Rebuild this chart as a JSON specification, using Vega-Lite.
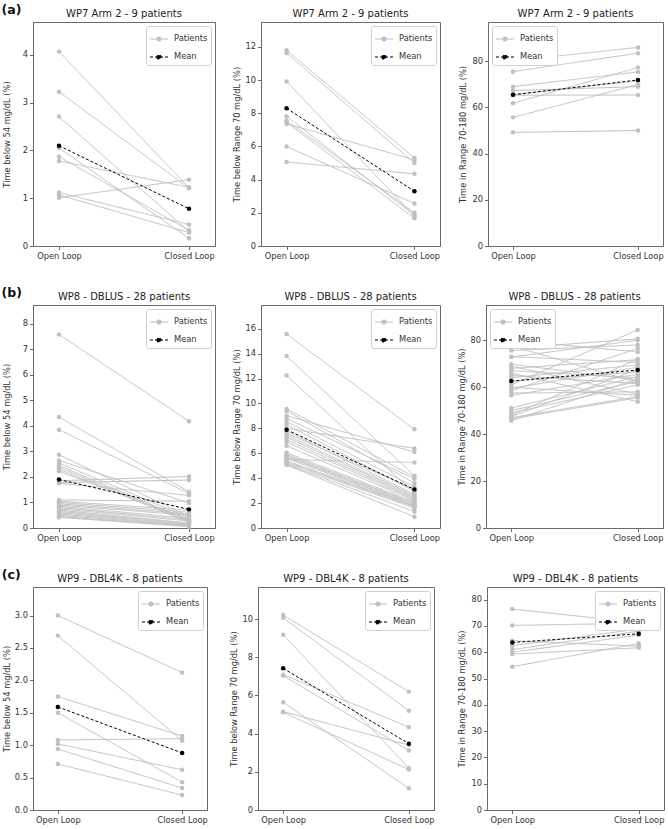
{
  "$schema": "https://vega.github.io/schema/vega-lite/v6.json",
  "padding": {"left": 1, "top": 4, "right": 2, "bottom": 2},
  "config": {
    "font": "DejaVu Sans",
    "view": {"stroke": "#6a6a6a", "strokeWidth": 1},
    "axis": {"grid": false, "domainColor": "#6a6a6a", "tickColor": "#6a6a6a", "labelColor": "#333", "titleColor": "#333", "labelFontSize": 8.3, "titleFontSize": 8.3, "titleFontWeight": "normal", "tickSize": 3.5, "labelPadding": 2, "titlePadding": 3, "domainWidth": 1, "tickWidth": 1},
    "title": {"fontSize": 10, "fontWeight": "normal", "color": "#222", "offset": 3},
    "legend": {"symbolType": "M-1,0H1M-0.22,0A0.22,0.22 0 1,0 0.22,0A0.22,0.22 0 1,0 -0.22,0Z", "symbolSize": 324, "symbolStrokeWidth": 1.2, "labelFontSize": 8.3, "labelColor": "#333", "padding": 3, "rowPadding": 3, "labelOffset": 5, "fillColor": "white", "strokeColor": "#d0d0d0", "cornerRadius": 2.5, "offset": 4}
  },
  "data": {"values": [
    {"panel": "a1", "series": "Patients", "id": 1, "Open Loop": 4.07, "Closed Loop": 1.22},
    {"panel": "a1", "series": "Patients", "id": 2, "Open Loop": 3.23, "Closed Loop": 1.21},
    {"panel": "a1", "series": "Patients", "id": 3, "Open Loop": 2.71, "Closed Loop": 0.30},
    {"panel": "a1", "series": "Patients", "id": 4, "Open Loop": 2.05, "Closed Loop": 0.16},
    {"panel": "a1", "series": "Patients", "id": 5, "Open Loop": 1.87, "Closed Loop": 0.33},
    {"panel": "a1", "series": "Patients", "id": 6, "Open Loop": 1.78, "Closed Loop": 1.23},
    {"panel": "a1", "series": "Patients", "id": 7, "Open Loop": 1.12, "Closed Loop": 0.45},
    {"panel": "a1", "series": "Patients", "id": 8, "Open Loop": 1.07, "Closed Loop": 0.28},
    {"panel": "a1", "series": "Patients", "id": 9, "Open Loop": 1.01, "Closed Loop": 1.39},
    {"panel": "a1", "series": "Mean", "id": 0, "Open Loop": 2.10, "Closed Loop": 0.78},
    {"panel": "a2", "series": "Patients", "id": 1, "Open Loop": 11.8, "Closed Loop": 5.3},
    {"panel": "a2", "series": "Patients", "id": 2, "Open Loop": 11.63, "Closed Loop": 5.0},
    {"panel": "a2", "series": "Patients", "id": 3, "Open Loop": 9.92, "Closed Loop": 1.8},
    {"panel": "a2", "series": "Patients", "id": 4, "Open Loop": 7.82, "Closed Loop": 1.85},
    {"panel": "a2", "series": "Patients", "id": 5, "Open Loop": 7.56, "Closed Loop": 2.0},
    {"panel": "a2", "series": "Patients", "id": 6, "Open Loop": 7.45, "Closed Loop": 1.67},
    {"panel": "a2", "series": "Patients", "id": 7, "Open Loop": 7.36, "Closed Loop": 5.2},
    {"panel": "a2", "series": "Patients", "id": 8, "Open Loop": 5.99, "Closed Loop": 2.56},
    {"panel": "a2", "series": "Patients", "id": 9, "Open Loop": 5.06, "Closed Loop": 4.35},
    {"panel": "a2", "series": "Mean", "id": 0, "Open Loop": 8.3, "Closed Loop": 3.3},
    {"panel": "a3", "series": "Patients", "id": 1, "Open Loop": 80.2, "Closed Loop": 86.0},
    {"panel": "a3", "series": "Patients", "id": 2, "Open Loop": 75.5, "Closed Loop": 83.5},
    {"panel": "a3", "series": "Patients", "id": 3, "Open Loop": 69.0, "Closed Loop": 75.4},
    {"panel": "a3", "series": "Patients", "id": 4, "Open Loop": 67.3, "Closed Loop": 69.0},
    {"panel": "a3", "series": "Patients", "id": 5, "Open Loop": 65.3, "Closed Loop": 65.4},
    {"panel": "a3", "series": "Patients", "id": 6, "Open Loop": 61.8, "Closed Loop": 77.3},
    {"panel": "a3", "series": "Patients", "id": 7, "Open Loop": 55.7, "Closed Loop": 69.9},
    {"panel": "a3", "series": "Patients", "id": 8, "Open Loop": 49.2, "Closed Loop": 50.0},
    {"panel": "a3", "series": "Patients", "id": 9, "Open Loop": 65.5, "Closed Loop": 71.5},
    {"panel": "a3", "series": "Mean", "id": 0, "Open Loop": 65.5, "Closed Loop": 71.9},
    {"panel": "b1", "series": "Patients", "id": 1, "Open Loop": 7.58, "Closed Loop": 4.18},
    {"panel": "b1", "series": "Patients", "id": 2, "Open Loop": 4.35, "Closed Loop": 1.42},
    {"panel": "b1", "series": "Patients", "id": 3, "Open Loop": 3.85, "Closed Loop": 1.35},
    {"panel": "b1", "series": "Patients", "id": 4, "Open Loop": 2.87, "Closed Loop": 0.45},
    {"panel": "b1", "series": "Patients", "id": 5, "Open Loop": 2.65, "Closed Loop": 0.98},
    {"panel": "b1", "series": "Patients", "id": 6, "Open Loop": 2.55, "Closed Loop": 0.40},
    {"panel": "b1", "series": "Patients", "id": 7, "Open Loop": 2.45, "Closed Loop": 0.30},
    {"panel": "b1", "series": "Patients", "id": 8, "Open Loop": 2.38, "Closed Loop": 0.25},
    {"panel": "b1", "series": "Patients", "id": 9, "Open Loop": 2.30, "Closed Loop": 0.22},
    {"panel": "b1", "series": "Patients", "id": 10, "Open Loop": 2.22, "Closed Loop": 0.35},
    {"panel": "b1", "series": "Patients", "id": 11, "Open Loop": 1.85, "Closed Loop": 2.02},
    {"panel": "b1", "series": "Patients", "id": 12, "Open Loop": 1.78, "Closed Loop": 1.88},
    {"panel": "b1", "series": "Patients", "id": 13, "Open Loop": 1.75, "Closed Loop": 1.28},
    {"panel": "b1", "series": "Patients", "id": 14, "Open Loop": 1.10, "Closed Loop": 1.05},
    {"panel": "b1", "series": "Patients", "id": 15, "Open Loop": 1.05, "Closed Loop": 0.70},
    {"panel": "b1", "series": "Patients", "id": 16, "Open Loop": 1.00, "Closed Loop": 0.62},
    {"panel": "b1", "series": "Patients", "id": 17, "Open Loop": 0.95, "Closed Loop": 0.55},
    {"panel": "b1", "series": "Patients", "id": 18, "Open Loop": 0.90, "Closed Loop": 0.50},
    {"panel": "b1", "series": "Patients", "id": 19, "Open Loop": 0.85, "Closed Loop": 0.38},
    {"panel": "b1", "series": "Patients", "id": 20, "Open Loop": 0.80, "Closed Loop": 0.32},
    {"panel": "b1", "series": "Patients", "id": 21, "Open Loop": 0.75, "Closed Loop": 0.28},
    {"panel": "b1", "series": "Patients", "id": 22, "Open Loop": 0.70, "Closed Loop": 0.20},
    {"panel": "b1", "series": "Patients", "id": 23, "Open Loop": 0.65, "Closed Loop": 0.18},
    {"panel": "b1", "series": "Patients", "id": 24, "Open Loop": 0.60, "Closed Loop": 0.15},
    {"panel": "b1", "series": "Patients", "id": 25, "Open Loop": 0.55, "Closed Loop": 0.12},
    {"panel": "b1", "series": "Patients", "id": 26, "Open Loop": 0.50, "Closed Loop": 0.10},
    {"panel": "b1", "series": "Patients", "id": 27, "Open Loop": 0.45, "Closed Loop": 0.08},
    {"panel": "b1", "series": "Patients", "id": 28, "Open Loop": 0.42, "Closed Loop": 0.05},
    {"panel": "b1", "series": "Mean", "id": 0, "Open Loop": 1.90, "Closed Loop": 0.73},
    {"panel": "b2", "series": "Patients", "id": 1, "Open Loop": 15.57, "Closed Loop": 7.92},
    {"panel": "b2", "series": "Patients", "id": 2, "Open Loop": 13.8, "Closed Loop": 4.19},
    {"panel": "b2", "series": "Patients", "id": 3, "Open Loop": 12.24, "Closed Loop": 2.8},
    {"panel": "b2", "series": "Patients", "id": 4, "Open Loop": 9.56, "Closed Loop": 4.1},
    {"panel": "b2", "series": "Patients", "id": 5, "Open Loop": 9.4, "Closed Loop": 3.6},
    {"panel": "b2", "series": "Patients", "id": 6, "Open Loop": 9.02, "Closed Loop": 6.1},
    {"panel": "b2", "series": "Patients", "id": 7, "Open Loop": 8.8, "Closed Loop": 3.95},
    {"panel": "b2", "series": "Patients", "id": 8, "Open Loop": 8.54, "Closed Loop": 3.3},
    {"panel": "b2", "series": "Patients", "id": 9, "Open Loop": 8.3, "Closed Loop": 2.95},
    {"panel": "b2", "series": "Patients", "id": 10, "Open Loop": 8.0, "Closed Loop": 6.39},
    {"panel": "b2", "series": "Patients", "id": 11, "Open Loop": 7.8, "Closed Loop": 2.7},
    {"panel": "b2", "series": "Patients", "id": 12, "Open Loop": 7.6, "Closed Loop": 3.1},
    {"panel": "b2", "series": "Patients", "id": 13, "Open Loop": 7.46, "Closed Loop": 2.6},
    {"panel": "b2", "series": "Patients", "id": 14, "Open Loop": 7.3, "Closed Loop": 2.5},
    {"panel": "b2", "series": "Patients", "id": 15, "Open Loop": 7.1, "Closed Loop": 2.4},
    {"panel": "b2", "series": "Patients", "id": 16, "Open Loop": 6.9, "Closed Loop": 2.3},
    {"panel": "b2", "series": "Patients", "id": 17, "Open Loop": 6.6, "Closed Loop": 2.2},
    {"panel": "b2", "series": "Patients", "id": 18, "Open Loop": 6.04, "Closed Loop": 2.1},
    {"panel": "b2", "series": "Patients", "id": 19, "Open Loop": 5.9, "Closed Loop": 2.0},
    {"panel": "b2", "series": "Patients", "id": 20, "Open Loop": 5.8, "Closed Loop": 1.95},
    {"panel": "b2", "series": "Patients", "id": 21, "Open Loop": 5.7, "Closed Loop": 1.85},
    {"panel": "b2", "series": "Patients", "id": 22, "Open Loop": 5.6, "Closed Loop": 1.8},
    {"panel": "b2", "series": "Patients", "id": 23, "Open Loop": 5.5, "Closed Loop": 5.26},
    {"panel": "b2", "series": "Patients", "id": 24, "Open Loop": 5.4, "Closed Loop": 1.75},
    {"panel": "b2", "series": "Patients", "id": 25, "Open Loop": 5.3, "Closed Loop": 1.7},
    {"panel": "b2", "series": "Patients", "id": 26, "Open Loop": 5.2, "Closed Loop": 1.6},
    {"panel": "b2", "series": "Patients", "id": 27, "Open Loop": 5.1, "Closed Loop": 1.32},
    {"panel": "b2", "series": "Patients", "id": 28, "Open Loop": 5.05, "Closed Loop": 0.91},
    {"panel": "b2", "series": "Mean", "id": 0, "Open Loop": 7.89, "Closed Loop": 3.1},
    {"panel": "b3", "series": "Patients", "id": 1, "Open Loop": 80.0, "Closed Loop": 75.0},
    {"panel": "b3", "series": "Patients", "id": 2, "Open Loop": 77.6, "Closed Loop": 62.0},
    {"panel": "b3", "series": "Patients", "id": 3, "Open Loop": 76.5, "Closed Loop": 80.6},
    {"panel": "b3", "series": "Patients", "id": 4, "Open Loop": 75.6, "Closed Loop": 78.0},
    {"panel": "b3", "series": "Patients", "id": 5, "Open Loop": 73.0, "Closed Loop": 70.5},
    {"panel": "b3", "series": "Patients", "id": 6, "Open Loop": 72.8, "Closed Loop": 80.0},
    {"panel": "b3", "series": "Patients", "id": 7, "Open Loop": 69.8, "Closed Loop": 63.0},
    {"panel": "b3", "series": "Patients", "id": 8, "Open Loop": 69.0, "Closed Loop": 57.0},
    {"panel": "b3", "series": "Patients", "id": 9, "Open Loop": 68.0, "Closed Loop": 71.7},
    {"panel": "b3", "series": "Patients", "id": 10, "Open Loop": 67.0, "Closed Loop": 64.0},
    {"panel": "b3", "series": "Patients", "id": 11, "Open Loop": 66.0, "Closed Loop": 53.8},
    {"panel": "b3", "series": "Patients", "id": 12, "Open Loop": 65.0, "Closed Loop": 61.5},
    {"panel": "b3", "series": "Patients", "id": 13, "Open Loop": 64.0, "Closed Loop": 69.5},
    {"panel": "b3", "series": "Patients", "id": 14, "Open Loop": 62.5, "Closed Loop": 66.5},
    {"panel": "b3", "series": "Patients", "id": 15, "Open Loop": 61.0, "Closed Loop": 84.4},
    {"panel": "b3", "series": "Patients", "id": 16, "Open Loop": 60.0, "Closed Loop": 56.5},
    {"panel": "b3", "series": "Patients", "id": 17, "Open Loop": 59.5, "Closed Loop": 68.5},
    {"panel": "b3", "series": "Patients", "id": 18, "Open Loop": 58.5, "Closed Loop": 76.5},
    {"panel": "b3", "series": "Patients", "id": 19, "Open Loop": 57.5, "Closed Loop": 58.0},
    {"panel": "b3", "series": "Patients", "id": 20, "Open Loop": 56.5, "Closed Loop": 65.5},
    {"panel": "b3", "series": "Patients", "id": 21, "Open Loop": 51.1, "Closed Loop": 64.5},
    {"panel": "b3", "series": "Patients", "id": 22, "Open Loop": 50.0, "Closed Loop": 62.5},
    {"panel": "b3", "series": "Patients", "id": 23, "Open Loop": 49.0, "Closed Loop": 61.0},
    {"panel": "b3", "series": "Patients", "id": 24, "Open Loop": 48.0, "Closed Loop": 72.0},
    {"panel": "b3", "series": "Patients", "id": 25, "Open Loop": 47.5, "Closed Loop": 67.5},
    {"panel": "b3", "series": "Patients", "id": 26, "Open Loop": 47.0, "Closed Loop": 56.0},
    {"panel": "b3", "series": "Patients", "id": 27, "Open Loop": 46.5, "Closed Loop": 55.5},
    {"panel": "b3", "series": "Patients", "id": 28, "Open Loop": 45.7, "Closed Loop": 63.5},
    {"panel": "b3", "series": "Mean", "id": 0, "Open Loop": 62.6, "Closed Loop": 67.3},
    {"panel": "c1", "series": "Patients", "id": 1, "Open Loop": 3.00, "Closed Loop": 2.12},
    {"panel": "c1", "series": "Patients", "id": 2, "Open Loop": 2.69, "Closed Loop": 1.07},
    {"panel": "c1", "series": "Patients", "id": 3, "Open Loop": 1.75, "Closed Loop": 1.14},
    {"panel": "c1", "series": "Patients", "id": 4, "Open Loop": 1.50, "Closed Loop": 0.43},
    {"panel": "c1", "series": "Patients", "id": 5, "Open Loop": 1.08, "Closed Loop": 1.10},
    {"panel": "c1", "series": "Patients", "id": 6, "Open Loop": 1.02, "Closed Loop": 0.62},
    {"panel": "c1", "series": "Patients", "id": 7, "Open Loop": 0.94, "Closed Loop": 0.34},
    {"panel": "c1", "series": "Patients", "id": 8, "Open Loop": 0.71, "Closed Loop": 0.23},
    {"panel": "c1", "series": "Mean", "id": 0, "Open Loop": 1.59, "Closed Loop": 0.88},
    {"panel": "c2", "series": "Patients", "id": 1, "Open Loop": 10.21, "Closed Loop": 6.2},
    {"panel": "c2", "series": "Patients", "id": 2, "Open Loop": 10.07, "Closed Loop": 5.2},
    {"panel": "c2", "series": "Patients", "id": 3, "Open Loop": 9.18, "Closed Loop": 2.19},
    {"panel": "c2", "series": "Patients", "id": 4, "Open Loop": 7.09, "Closed Loop": 4.34},
    {"panel": "c2", "series": "Patients", "id": 5, "Open Loop": 7.03, "Closed Loop": 3.12},
    {"panel": "c2", "series": "Patients", "id": 6, "Open Loop": 5.64, "Closed Loop": 1.14},
    {"panel": "c2", "series": "Patients", "id": 7, "Open Loop": 5.15, "Closed Loop": 3.4},
    {"panel": "c2", "series": "Patients", "id": 8, "Open Loop": 5.12, "Closed Loop": 2.12},
    {"panel": "c2", "series": "Mean", "id": 0, "Open Loop": 7.42, "Closed Loop": 3.47},
    {"panel": "c3", "series": "Patients", "id": 1, "Open Loop": 76.4, "Closed Loop": 71.3},
    {"panel": "c3", "series": "Patients", "id": 2, "Open Loop": 70.2, "Closed Loop": 71.0},
    {"panel": "c3", "series": "Patients", "id": 3, "Open Loop": 64.4, "Closed Loop": 62.3},
    {"panel": "c3", "series": "Patients", "id": 4, "Open Loop": 62.5, "Closed Loop": 68.8},
    {"panel": "c3", "series": "Patients", "id": 5, "Open Loop": 61.0, "Closed Loop": 68.0},
    {"panel": "c3", "series": "Patients", "id": 6, "Open Loop": 60.0, "Closed Loop": 66.5},
    {"panel": "c3", "series": "Patients", "id": 7, "Open Loop": 59.3, "Closed Loop": 61.7},
    {"panel": "c3", "series": "Patients", "id": 8, "Open Loop": 54.5, "Closed Loop": 63.3},
    {"panel": "c3", "series": "Mean", "id": 0, "Open Loop": 63.7, "Closed Loop": 67.0}
  ]},
  "spacing": 26,
  "resolve": {"scale": {"color": "independent", "strokeDash": "independent"}, "legend": {"color": "independent", "strokeDash": "independent"}},
  "vconcat": [
    {
      "title": {"text": "(a)", "anchor": "start", "fontSize": 12.5, "fontWeight": "bold", "color": "#111", "offset": -8},
      "spacing": 16,
      "resolve": {"scale": {"color": "independent", "strokeDash": "independent"}, "legend": {"color": "independent", "strokeDash": "independent"}},
      "hconcat": [
        {
          "title": "WP7 Arm 2 - 9 patients", "width": 182, "height": 224,
          "transform": [{"filter": "datum.panel === 'a1'"}, {"fold": ["Open Loop", "Closed Loop"], "as": ["phase", "value"]}],
          "mark": {"type": "line", "strokeWidth": 1, "point": {"filled": true, "size": 20, "opacity": 1}},
          "encoding": {
            "x": {"field": "phase", "type": "nominal", "scale": {"type": "point", "domain": ["Open Loop", "Closed Loop"], "padding": 0.2}, "axis": {"title": null, "labelAngle": 0}},
            "y": {"field": "value", "type": "quantitative", "scale": {"domain": [0, 4.69], "nice": false}, "axis": {"title": "Time below 54 mg/dL (%)", "values": [0, 1, 2, 3, 4], "minExtent": 19}},
            "detail": {"field": "id", "type": "nominal"},
            "color": {"field": "series", "type": "nominal", "scale": {"domain": ["Patients", "Mean"], "range": ["#c0c0c0", "#000000"]}, "legend": {"title": null, "orient": "top-right", "encode": {"symbols": {"update": {"fill": {"signal": "datum.value === 'Mean' ? '#000000' : '#c0c0c0'"}, "stroke": {"signal": "datum.value === 'Mean' ? '#000000' : '#c0c0c0'"}, "strokeDash": {"signal": "datum.value === 'Mean' ? [3, 2] : [1, 0]"}}}}}},
            "strokeDash": {"field": "series", "type": "nominal", "scale": {"domain": ["Patients", "Mean"], "range": [[1, 0], [3, 2]]}, "legend": null}
          }
        },
        {
          "title": "WP7 Arm 2 - 9 patients", "width": 179, "height": 224,
          "transform": [{"filter": "datum.panel === 'a2'"}, {"fold": ["Open Loop", "Closed Loop"], "as": ["phase", "value"]}],
          "mark": {"type": "line", "strokeWidth": 1, "point": {"filled": true, "size": 20, "opacity": 1}},
          "encoding": {
            "x": {"field": "phase", "type": "nominal", "scale": {"type": "point", "domain": ["Open Loop", "Closed Loop"], "padding": 0.2}, "axis": {"title": null, "labelAngle": 0}},
            "y": {"field": "value", "type": "quantitative", "scale": {"domain": [0, 13.5], "nice": false}, "axis": {"title": "Time below Range 70 mg/dL (%)", "values": [0, 2, 4, 6, 8, 10, 12]}},
            "detail": {"field": "id", "type": "nominal"},
            "color": {"field": "series", "type": "nominal", "scale": {"domain": ["Patients", "Mean"], "range": ["#c0c0c0", "#000000"]}, "legend": {"title": null, "orient": "top-right", "encode": {"symbols": {"update": {"fill": {"signal": "datum.value === 'Mean' ? '#000000' : '#c0c0c0'"}, "stroke": {"signal": "datum.value === 'Mean' ? '#000000' : '#c0c0c0'"}, "strokeDash": {"signal": "datum.value === 'Mean' ? [3, 2] : [1, 0]"}}}}}},
            "strokeDash": {"field": "series", "type": "nominal", "scale": {"domain": ["Patients", "Mean"], "range": [[1, 0], [3, 2]]}, "legend": null}
          }
        },
        {
          "title": "WP7 Arm 2 - 9 patients", "width": 175, "height": 224,
          "transform": [{"filter": "datum.panel === 'a3'"}, {"fold": ["Open Loop", "Closed Loop"], "as": ["phase", "value"]}],
          "mark": {"type": "line", "strokeWidth": 1, "point": {"filled": true, "size": 20, "opacity": 1}},
          "encoding": {
            "x": {"field": "phase", "type": "nominal", "scale": {"type": "point", "domain": ["Open Loop", "Closed Loop"], "padding": 0.2}, "axis": {"title": null, "labelAngle": 0}},
            "y": {"field": "value", "type": "quantitative", "scale": {"domain": [0, 97], "nice": false}, "axis": {"title": "Time in Range 70-180 mg/dL (%)", "values": [0, 20, 40, 60, 80], "minExtent": 18}},
            "detail": {"field": "id", "type": "nominal"},
            "color": {"field": "series", "type": "nominal", "scale": {"domain": ["Patients", "Mean"], "range": ["#c0c0c0", "#000000"]}, "legend": {"title": null, "orient": "top-left", "encode": {"symbols": {"update": {"fill": {"signal": "datum.value === 'Mean' ? '#000000' : '#c0c0c0'"}, "stroke": {"signal": "datum.value === 'Mean' ? '#000000' : '#c0c0c0'"}, "strokeDash": {"signal": "datum.value === 'Mean' ? [3, 2] : [1, 0]"}}}}}},
            "strokeDash": {"field": "series", "type": "nominal", "scale": {"domain": ["Patients", "Mean"], "range": [[1, 0], [3, 2]]}, "legend": null}
          }
        }
      ]
    },
    {
      "title": {"text": "(b)", "anchor": "start", "fontSize": 12.5, "fontWeight": "bold", "color": "#111", "offset": -8},
      "spacing": 16,
      "resolve": {"scale": {"color": "independent", "strokeDash": "independent"}, "legend": {"color": "independent", "strokeDash": "independent"}},
      "hconcat": [
        {
          "title": "WP8 - DBLUS - 28 patients", "width": 182, "height": 223,
          "transform": [{"filter": "datum.panel === 'b1'"}, {"fold": ["Open Loop", "Closed Loop"], "as": ["phase", "value"]}],
          "mark": {"type": "line", "strokeWidth": 1, "point": {"filled": true, "size": 20, "opacity": 1}},
          "encoding": {
            "x": {"field": "phase", "type": "nominal", "scale": {"type": "point", "domain": ["Open Loop", "Closed Loop"], "padding": 0.2}, "axis": {"title": null, "labelAngle": 0}},
            "y": {"field": "value", "type": "quantitative", "scale": {"domain": [0, 8.74], "nice": false}, "axis": {"title": "Time below 54 mg/dL (%)", "values": [0, 1, 2, 3, 4, 5, 6, 7, 8], "minExtent": 19}},
            "detail": {"field": "id", "type": "nominal"},
            "color": {"field": "series", "type": "nominal", "scale": {"domain": ["Patients", "Mean"], "range": ["#c0c0c0", "#000000"]}, "legend": {"title": null, "orient": "top-right", "encode": {"symbols": {"update": {"fill": {"signal": "datum.value === 'Mean' ? '#000000' : '#c0c0c0'"}, "stroke": {"signal": "datum.value === 'Mean' ? '#000000' : '#c0c0c0'"}, "strokeDash": {"signal": "datum.value === 'Mean' ? [3, 2] : [1, 0]"}}}}}},
            "strokeDash": {"field": "series", "type": "nominal", "scale": {"domain": ["Patients", "Mean"], "range": [[1, 0], [3, 2]]}, "legend": null}
          }
        },
        {
          "title": "WP8 - DBLUS - 28 patients", "width": 179, "height": 223,
          "transform": [{"filter": "datum.panel === 'b2'"}, {"fold": ["Open Loop", "Closed Loop"], "as": ["phase", "value"]}],
          "mark": {"type": "line", "strokeWidth": 1, "point": {"filled": true, "size": 20, "opacity": 1}},
          "encoding": {
            "x": {"field": "phase", "type": "nominal", "scale": {"type": "point", "domain": ["Open Loop", "Closed Loop"], "padding": 0.2}, "axis": {"title": null, "labelAngle": 0}},
            "y": {"field": "value", "type": "quantitative", "scale": {"domain": [0, 17.9], "nice": false}, "axis": {"title": "Time below Range 70 mg/dL (%)", "values": [0, 2, 4, 6, 8, 10, 12, 14, 16]}},
            "detail": {"field": "id", "type": "nominal"},
            "color": {"field": "series", "type": "nominal", "scale": {"domain": ["Patients", "Mean"], "range": ["#c0c0c0", "#000000"]}, "legend": {"title": null, "orient": "top-right", "encode": {"symbols": {"update": {"fill": {"signal": "datum.value === 'Mean' ? '#000000' : '#c0c0c0'"}, "stroke": {"signal": "datum.value === 'Mean' ? '#000000' : '#c0c0c0'"}, "strokeDash": {"signal": "datum.value === 'Mean' ? [3, 2] : [1, 0]"}}}}}},
            "strokeDash": {"field": "series", "type": "nominal", "scale": {"domain": ["Patients", "Mean"], "range": [[1, 0], [3, 2]]}, "legend": null}
          }
        },
        {
          "title": "WP8 - DBLUS - 28 patients", "width": 177, "height": 223,
          "transform": [{"filter": "datum.panel === 'b3'"}, {"fold": ["Open Loop", "Closed Loop"], "as": ["phase", "value"]}],
          "mark": {"type": "line", "strokeWidth": 1, "point": {"filled": true, "size": 20, "opacity": 1}},
          "encoding": {
            "x": {"field": "phase", "type": "nominal", "scale": {"type": "point", "domain": ["Open Loop", "Closed Loop"], "padding": 0.2}, "axis": {"title": null, "labelAngle": 0}},
            "y": {"field": "value", "type": "quantitative", "scale": {"domain": [0, 95], "nice": false}, "axis": {"title": "Time in Range 70-180 mg/dL (%)", "values": [0, 20, 40, 60, 80]}},
            "detail": {"field": "id", "type": "nominal"},
            "color": {"field": "series", "type": "nominal", "scale": {"domain": ["Patients", "Mean"], "range": ["#c0c0c0", "#000000"]}, "legend": {"title": null, "orient": "top-left", "encode": {"symbols": {"update": {"fill": {"signal": "datum.value === 'Mean' ? '#000000' : '#c0c0c0'"}, "stroke": {"signal": "datum.value === 'Mean' ? '#000000' : '#c0c0c0'"}, "strokeDash": {"signal": "datum.value === 'Mean' ? [3, 2] : [1, 0]"}}}}}},
            "strokeDash": {"field": "series", "type": "nominal", "scale": {"domain": ["Patients", "Mean"], "range": [[1, 0], [3, 2]]}, "legend": null}
          }
        }
      ]
    },
    {
      "title": {"text": "(c)", "anchor": "start", "fontSize": 12.5, "fontWeight": "bold", "color": "#111", "offset": -8},
      "spacing": 21,
      "resolve": {"scale": {"color": "independent", "strokeDash": "independent"}, "legend": {"color": "independent", "strokeDash": "independent"}},
      "hconcat": [
        {
          "title": "WP9 - DBL4K - 8 patients", "width": 174, "height": 223,
          "transform": [{"filter": "datum.panel === 'c1'"}, {"fold": ["Open Loop", "Closed Loop"], "as": ["phase", "value"]}],
          "mark": {"type": "line", "strokeWidth": 1, "point": {"filled": true, "size": 20, "opacity": 1}},
          "encoding": {
            "x": {"field": "phase", "type": "nominal", "scale": {"type": "point", "domain": ["Open Loop", "Closed Loop"], "padding": 0.2}, "axis": {"title": null, "labelAngle": 0}},
            "y": {"field": "value", "type": "quantitative", "scale": {"domain": [0, 3.44], "nice": false}, "axis": {"title": "Time below 54 mg/dL (%)", "values": [0, 0.5, 1, 1.5, 2, 2.5, 3], "format": ".1f"}},
            "detail": {"field": "id", "type": "nominal"},
            "color": {"field": "series", "type": "nominal", "scale": {"domain": ["Patients", "Mean"], "range": ["#c0c0c0", "#000000"]}, "legend": {"title": null, "orient": "top-right", "encode": {"symbols": {"update": {"fill": {"signal": "datum.value === 'Mean' ? '#000000' : '#c0c0c0'"}, "stroke": {"signal": "datum.value === 'Mean' ? '#000000' : '#c0c0c0'"}, "strokeDash": {"signal": "datum.value === 'Mean' ? [3, 2] : [1, 0]"}}}}}},
            "strokeDash": {"field": "series", "type": "nominal", "scale": {"domain": ["Patients", "Mean"], "range": [[1, 0], [3, 2]]}, "legend": null}
          }
        },
        {
          "title": "WP9 - DBL4K - 8 patients", "width": 176, "height": 223,
          "transform": [{"filter": "datum.panel === 'c2'"}, {"fold": ["Open Loop", "Closed Loop"], "as": ["phase", "value"]}],
          "mark": {"type": "line", "strokeWidth": 1, "point": {"filled": true, "size": 20, "opacity": 1}},
          "encoding": {
            "x": {"field": "phase", "type": "nominal", "scale": {"type": "point", "domain": ["Open Loop", "Closed Loop"], "padding": 0.2}, "axis": {"title": null, "labelAngle": 0}},
            "y": {"field": "value", "type": "quantitative", "scale": {"domain": [0, 11.68], "nice": false}, "axis": {"title": "Time below Range 70 mg/dL (%)", "values": [0, 2, 4, 6, 8, 10]}},
            "detail": {"field": "id", "type": "nominal"},
            "color": {"field": "series", "type": "nominal", "scale": {"domain": ["Patients", "Mean"], "range": ["#c0c0c0", "#000000"]}, "legend": {"title": null, "orient": "top-right", "encode": {"symbols": {"update": {"fill": {"signal": "datum.value === 'Mean' ? '#000000' : '#c0c0c0'"}, "stroke": {"signal": "datum.value === 'Mean' ? '#000000' : '#c0c0c0'"}, "strokeDash": {"signal": "datum.value === 'Mean' ? [3, 2] : [1, 0]"}}}}}},
            "strokeDash": {"field": "series", "type": "nominal", "scale": {"domain": ["Patients", "Mean"], "range": [[1, 0], [3, 2]]}, "legend": null}
          }
        },
        {
          "title": "WP9 - DBL4K - 8 patients", "width": 177, "height": 223,
          "transform": [{"filter": "datum.panel === 'c3'"}, {"fold": ["Open Loop", "Closed Loop"], "as": ["phase", "value"]}],
          "mark": {"type": "line", "strokeWidth": 1, "point": {"filled": true, "size": 20, "opacity": 1}},
          "encoding": {
            "x": {"field": "phase", "type": "nominal", "scale": {"type": "point", "domain": ["Open Loop", "Closed Loop"], "padding": 0.2}, "axis": {"title": null, "labelAngle": 0}},
            "y": {"field": "value", "type": "quantitative", "scale": {"domain": [0, 84.8], "nice": false}, "axis": {"title": "Time in Range 70-180 mg/dL (%)", "values": [0, 10, 20, 30, 40, 50, 60, 70, 80], "minExtent": 18}},
            "detail": {"field": "id", "type": "nominal"},
            "color": {"field": "series", "type": "nominal", "scale": {"domain": ["Patients", "Mean"], "range": ["#c0c0c0", "#000000"]}, "legend": {"title": null, "orient": "top-right", "encode": {"symbols": {"update": {"fill": {"signal": "datum.value === 'Mean' ? '#000000' : '#c0c0c0'"}, "stroke": {"signal": "datum.value === 'Mean' ? '#000000' : '#c0c0c0'"}, "strokeDash": {"signal": "datum.value === 'Mean' ? [3, 2] : [1, 0]"}}}}}},
            "strokeDash": {"field": "series", "type": "nominal", "scale": {"domain": ["Patients", "Mean"], "range": [[1, 0], [3, 2]]}, "legend": null}
          }
        }
      ]
    }
  ]
}
